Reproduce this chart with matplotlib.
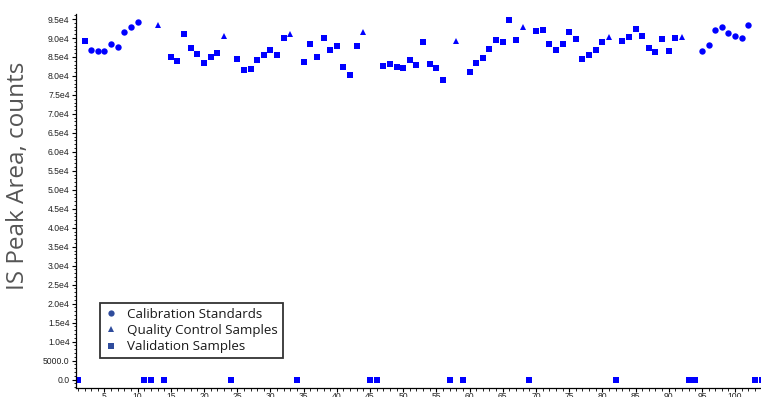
import numpy as np
import matplotlib
matplotlib.use('Agg')
import matplotlib.pyplot as plt
from matplotlib.ticker import MultipleLocator, FuncFormatter
from matplotlib.lines import Line2D

# internal standard peak areas per injection (sample index -> counts)
cal_x = [3, 4, 5, 6, 7, 8, 9, 10, 95, 96, 97, 98, 99, 100, 101, 102]
cal_y = [86800, 86500, 86600, 88350, 87700, 91500, 93000, 94200,
         86500, 88070, 92030, 93000, 91330, 90620, 89930, 93510]

qc_x = [13, 23, 33, 44, 58, 68, 81, 92]
qc_y = [93500, 90600, 91000, 91600, 89200, 93000, 90360, 90360]

val_x = [1, 2, 11, 12, 14, 15, 16, 17, 18, 19, 20, 21, 22, 24, 25, 26, 27, 28,
         29, 30, 31, 32, 34, 35, 36, 37, 38, 39, 40, 41, 42, 43, 45, 46, 47, 48,
         49, 50, 51, 52, 53, 54, 55, 56, 57, 59, 60, 61, 62, 63, 64, 65, 66, 67,
         69, 70, 71, 72, 73, 74, 75, 76, 77, 78, 79, 80, 82, 83, 84, 85, 86, 87,
         88, 89, 90, 91, 93, 94, 103, 104]
val_y = [0, 89200, 0, 0, 0, 84900, 84050, 91150, 87400, 85700, 83350, 85000,
         86000, 0, 84500, 81500, 81950, 84150, 85450, 86770, 85620, 89930, 0,
         83700, 88430, 85100, 90100, 86770, 87820, 82460, 80200, 87900, 0, 0,
         82640, 83100, 82380, 82200, 84140, 82900, 88860, 83080, 82110, 79040,
         0, 0, 81150, 83440, 84830, 87120, 89400, 88860, 94670, 89400, 0, 91850,
         92120, 88430, 86850, 88430, 91670, 89660, 84400, 85540, 86770, 88860,
         0, 89140, 90280, 92300, 90540, 87380, 86330, 89750, 86670, 90100, 0, 0,
         0, 0]

legend_labels = ['Calibration Standards', 'Quality Control Samples', 'Validation Samples']

point_color = '#0000ff'
legend_color = '#2f4c9c'
label_font = ['Open Sans', 'DejaVu Sans']

fig = plt.figure(figsize=(7.61, 3.97), dpi=100)
ax = fig.add_axes([76 / 761, 9.5 / 397, 1 - 76 / 761, 373.5 / 397])

ax.plot(cal_x, cal_y, 'o', color=point_color, ms=4.6, mew=0)
ax.plot(qc_x, qc_y, '^', color=point_color, ms=5.0, mew=0)
ax.plot(val_x, val_y, 's', color=point_color, ms=4.6, mew=0)

ax.set_xlim(0.71, 103.9)
ax.set_ylim(-2105, 96330)

for side in ['top', 'right']:
    ax.spines[side].set_visible(False)
for side in ['left', 'bottom']:
    ax.spines[side].set_linewidth(0.9)

ax.xaxis.set_major_locator(MultipleLocator(5))
ax.xaxis.set_minor_locator(MultipleLocator(1))
ax.yaxis.set_major_locator(MultipleLocator(5000))
ax.yaxis.set_minor_locator(MultipleLocator(1000))


def area_fmt(v, pos):
    if v < 0:
        return ''
    if v >= 10000:
        return f'{v / 1e4:.1f}e4'
    return f'{v:.1f}'


ax.yaxis.set_major_formatter(FuncFormatter(area_fmt))
ax.tick_params(which='major', length=3, width=0.8, labelsize=6.2,
               labelcolor='#222222', pad=1.5)
ax.tick_params(axis='x', which='major', pad=0.3)
ax.tick_params(which='minor', length=1.8, width=0.6)
for lab in ax.get_xticklabels() + ax.get_yticklabels():
    lab.set_fontfamily('Liberation Sans')

fig.text(18 / 761, 1 - 176 / 397, 'IS Peak Area, counts', rotation=90,
         ha='center', va='center', fontsize=17.5, color='#555555',
         family=label_font)

handles = [
    Line2D([], [], ls='', marker='o', color=legend_color, ms=4.5, mew=0),
    Line2D([], [], ls='', marker='^', color=legend_color, ms=5, mew=0),
    Line2D([], [], ls='', marker='s', color=legend_color, ms=5, mew=0),
]
leg = ax.legend(handles, legend_labels, loc='lower left',
                bbox_to_anchor=((100 - 76) / 685, (387.5 - 358) / 373.5),
                borderaxespad=0, frameon=True, fancybox=False,
                prop={'family': label_font, 'size': 9.6},
                handlelength=1.0, handletextpad=0.7, labelspacing=0.25,
                borderpad=0.35)
leg.get_frame().set_edgecolor('black')
leg.get_frame().set_linewidth(1.3)
for t in leg.get_texts():
    t.set_color('#1a1a1a')

fig.savefig('out.png', dpi=100)
